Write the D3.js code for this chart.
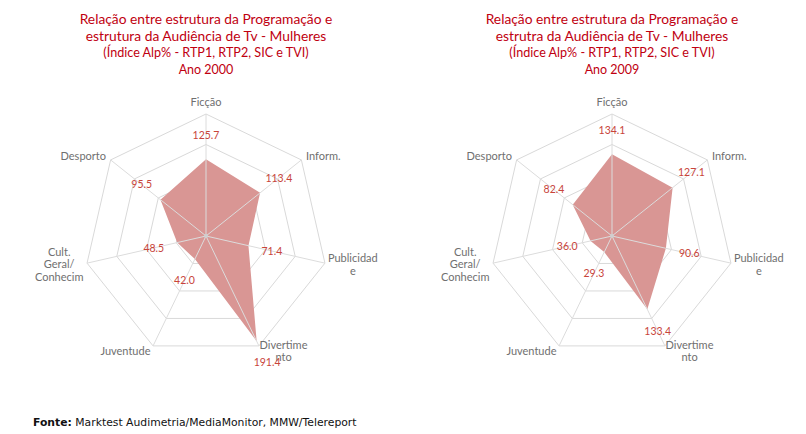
<!DOCTYPE html>
<html><head>
<meta charset="utf-8">
<title>Radar - Mulheres</title>
<script src="https://d3js.org/d3.v7.min.js"></script>
<style>
body { margin: 0; background: #fff; }
svg { display: block; }
.title { font-family: Lato, "Open Sans", sans-serif; fill: #c00010; text-anchor: middle; }
.cat { font-family: Lato, "Open Sans", sans-serif; font-size: 11px; fill: #6f6f6f; }
.val { font-family: Lato, "Open Sans", sans-serif; font-size: 10.5px; fill: #c8443a; text-anchor: middle; }
.fonte { font-family: "DejaVu Sans", Verdana, sans-serif; font-size: 10.8px; fill: #111; }
</style>
</head>
<body>
<svg id="chart" width="806" height="434"></svg>
<script>
// categories (wrapped the same way as the original)
const categories = [["Ficção"], ["Inform."], ["Publicidad", "e"], ["Divertime", "nto"],
    ["Juventude"], ["Cult.", "Geral/", "Conhecim"], ["Desporto"]];
const values2000 = [125.7, 113.4, 71.4, 191.4, 42.0, 48.5, 95.5];
const values2009 = [134.1, 127.1, 90.6, 133.4, 29.3, 36.0, 82.4];
const ringTicks = [50, 100, 150, 200];
const title2000 = ["Relação entre estrutura da Programação e", "estrutura da Audiência de Tv - Mulheres",
    "(Índice Alp% - RTP1, RTP2, SIC e TVI)", "Ano 2000"];
const title2009 = ["Relação entre estrutura da Programação e", "estrutra da Audiência de Tv - Mulheres",
    "(Índice Alp% - RTP1, RTP2, SIC e TVI)", "Ano 2009"];

const svg = d3.select("#chart");
const R = 122;
const angle = d3.scaleLinear().domain([0, categories.length]).range([0, 2 * Math.PI]);
const rScale = d3.scaleLinear().domain([0, 200]).range([0, R]);

function pt(i, r) {
    const a = angle(i);
    return [Math.sin(a) * r, -Math.cos(a) * r];
}

function drawRadar(cx, cy, values, titleLines) {
    // titles
    const t = svg.append("g");
    const ys = [24, 41, 57, 74];
    const sizes = [13.8, 13.8, 12.6, 12.5];
    titleLines.forEach((s, i) => {
        t.append("text").attr("class", "title")
            .attr("x", cx).attr("y", ys[i])
            .style("font-size", sizes[i] + "px")
            .text(s);
    });

    const g = svg.append("g").attr("transform", "translate(" + cx + "," + cy + ")");

    // rings
    g.selectAll("polygon.ring").data(ringTicks)
        .join("polygon")
        .attr("class", "ring")
        .attr("fill", "none")
        .attr("stroke", "#d9d9d9")
        .attr("stroke-width", 1)
        .attr("points", d => categories.map((c, i) => pt(i, rScale(d)).join(",")).join(" "));

    // data area
    g.append("polygon")
        .attr("fill", "#d99694")
        .attr("points", values.map((v, i) => pt(i, rScale(v)).join(",")).join(" "));

    // spokes
    g.selectAll("line.spoke").data(categories)
        .join("line")
        .attr("class", "spoke")
        .attr("x1", 0).attr("y1", 0)
        .attr("x2", (d, i) => pt(i, R)[0])
        .attr("y2", (d, i) => pt(i, R)[1])
        .attr("stroke", "#dcdcdc")
        .attr("stroke-width", 1);

    g.append("circle").attr("r", 2).attr("fill", "#cfcfcf");

    // category labels
    categories.forEach((lines, i) => {
        const a = angle(i);
        const s = Math.sin(a);
        let [x, y] = pt(i, R + 6);
        if (Math.abs(s) < 0.1) y -= 6;
        const lh = 12.5;
        const txt = g.append("text").attr("class", "cat");
        let anchor, tx;
        if (lines.length > 1) {
            anchor = "middle";
            tx = s > 0 ? x + 22 : x - 22;
        } else {
            anchor = Math.abs(s) < 0.1 ? "middle" : (s > 0 ? "start" : "end");
            tx = x;
        }
        txt.attr("text-anchor", anchor);
        const y0 = y - (lines.length - 1) * lh / 2;
        lines.forEach((l, j) => {
            txt.append("tspan").attr("x", tx).attr("y", y0 + j * lh).attr("dy", "0.35em").text(l);
        });
    });

    // value labels
    g.selectAll("text.val").data(values)
        .join("text")
        .attr("class", "val")
        .attr("x", (d, i) => pt(i, rScale(d) + 24)[0])
        .attr("y", (d, i) => pt(i, rScale(d) + 24)[1])
        .attr("dy", "0.35em")
        .text(d => d.toFixed(1));
}

svg.append("rect").attr("width", 806).attr("height", 434).attr("fill", "#fff");
drawRadar(206, 236, values2000, title2000);
drawRadar(612, 236, values2009, title2009);

const f = svg.append("text").attr("class", "fonte").attr("x", 33).attr("y", 426);
f.append("tspan").style("font-weight", "bold").text("Fonte:");
f.append("tspan").text(" Marktest Audimetria/MediaMonitor, MMW/Telereport");
</script>
</body>
</html>
